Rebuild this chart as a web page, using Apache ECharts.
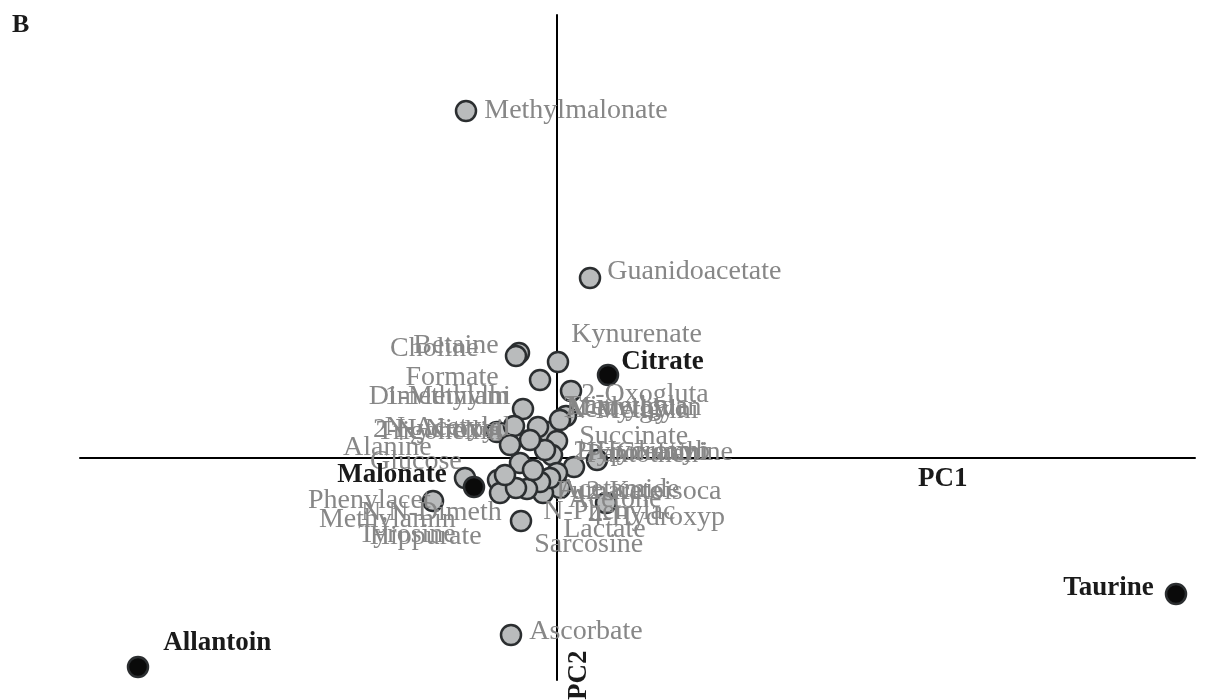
<!DOCTYPE html>
<html>
<head>
<meta charset="utf-8">
<script src="https://cdn.jsdelivr.net/npm/echarts@6/dist/echarts.min.js"></script>
<style>
  html, body { margin: 0; padding: 0; background: #fff; }
  #chart { width: 1213px; height: 700px; }
</style>
</head>
<body>
<div id="chart"></div>
<script>
// metabolite loadings, PC1 / PC2
const names = [
  "Methylmalonate", "Guanidoacetate", "Ascorbate", "Kynurenate", "Betaine",
  "Choline", "Formate", "2-Oxogluta", "1-Methylhi", "Dimethylam",
  "Methylguan", "Acetylglyc", "N-Methylni", "Trimethyla", "Succinate",
  "2-Hydroxyb", "Hypoxanthi", "Pantothen", "Creatinine", "Fumarate",
  "Acetamide", "Acetone", "2-Ketoisoca", "N-Phenylac", "4-Hydroxyp",
  "Lactate", "Sarcosine", "Alanine", "Glucose", "Trigonellin",
  "N-Nitroso", "2-Hydroxyi", "N-Acetylgl", "Phenylacet", "Methylamin",
  "N,N-Dimeth", "Hippurate", "Tyrosine",
  "Citrate", "Malonate", "Taurine", "Allantoin"
];
const pc1 = [
  -0.091, 0.033, -0.046, 0.001, -0.038,
  -0.041, -0.017, 0.014, -0.034, -0.060,
  0.009, -0.009, -0.019, 0.003, 0.000,
  0.040, -0.005, 0.017, -0.012, 0.003,
  -0.014, 0.000, 0.049, -0.036, -0.007,
  -0.017, -0.030, -0.059, -0.092, -0.043,
  -0.027, -0.037, -0.047, -0.124, -0.057,
  -0.041, -0.024, -0.052,
  0.051, -0.083, 0.619, -0.419
];
const pc2 = [
  0.347, 0.180, -0.177, 0.096, 0.105,
  0.102, 0.078, 0.067, 0.049, 0.026,
  0.042, 0.026, 0.031, 0.038, 0.017,
  -0.002, 0.003, -0.009, 0.008, -0.030,
  -0.035, -0.015, -0.045, -0.063, -0.020,
  -0.024, -0.031, -0.022, -0.020, 0.032,
  0.018, -0.005, 0.013, -0.043, -0.035,
  -0.030, -0.012, -0.017,
  0.083, -0.029, -0.136, -0.209
];
const highlighted = ["Citrate", "Malonate", "Taurine", "Allantoin"];

// where each label sits relative to its point
const labelSide = [
  "right", "right", "right", "right", "left",
  "left", "left", "right", "left", "left",
  "right", "right", "right", "right", "right",
  "right", "right", "right", "right", "right",
  "right", "right", "right", "right", "right",
  "right", "right", "left", "left", "left",
  "left", "left", "left", "left", "left",
  "left", "left", "left",
  "right", "left", "left", "right"
];
const labelShift = [
  [2, 0], [1, -6], [2, -3], [-3, -27], [-4, -7],
  [-21, -7], [-25, -2], [-6, 4], [4, -12], [28, -35],
  [-16, -8], [0, -22], [12, -16], [-12, -13], [6, -4],
  [-40, -8], [8, -2], [-4, -12], [55, 3], [-20, 4],
  [-1, -3], [-5, 27], [-36, -11], [6, -9], [22, 40],
  [7, 48], [-9, 56], [-50, -32], [13, -16], [4, 6],
  [-5, -10], [0, -33], [17, -17], [14, 0], [-28, 27],
  [2, 25], [-35, 67], [-33, 60],
  [-3, -13], [-11, -12], [-6, -6], [9, -24]
];

const serif = '"Liberation Serif", "Times New Roman", serif';

function buildData(bold) {
  const out = [];
  names.forEach((n, i) => {
    const isHi = highlighted.indexOf(n) >= 0;
    if (isHi !== bold) return;
    out.push({
      name: n,
      value: [pc1[i], pc2[i]],
      label: {
        position: labelSide[i],
        offset: labelShift[i],
      },
    });
  });
  return out;
}

const chart = echarts.init(document.getElementById("chart"));
chart.setOption({
  animation: false,
  grid: { left: 80, right: 18, top: 15, bottom: 20 },
  xAxis: {
    type: "value",
    min: -0.477,
    max: 0.638,
    axisLine: { onZero: true, lineStyle: { color: "#000", width: 2 } },
    axisTick: { show: false },
    axisLabel: { show: false },
    splitLine: { show: false },
  },
  yAxis: {
    type: "value",
    min: -0.222,
    max: 0.443,
    axisLine: { onZero: true, lineStyle: { color: "#000", width: 2 } },
    axisTick: { show: false },
    axisLabel: { show: false },
    splitLine: { show: false },
  },
  graphic: [
    { type: "text", left: 12, top: 12,
      style: { text: "B", font: "bold 26px " + serif, fill: "#1a1a1a" } },
    { type: "text", x: 918, y: 466,
      style: { text: "PC1", font: "bold 27px " + serif, fill: "#1a1a1a" } },
    { type: "text", x: 566, y: 700, rotation: Math.PI / 2,
      style: { text: "PC2", font: "bold 27px " + serif, fill: "#1a1a1a" } },
  ],
  series: [
    {
      type: "scatter",
      symbolSize: 20,
      itemStyle: { color: "#b9bbbc", borderColor: "#2b2e30", borderWidth: 2.5, opacity: 1 },
      label: {
        show: true,
        formatter: "{b}",
        color: "#878787",
        fontFamily: serif,
        fontSize: 28,
        distance: 5,
      },
      data: buildData(false),
    },
    {
      type: "scatter",
      symbolSize: 20,
      itemStyle: { color: "#0a0a0a", borderColor: "#2b2e30", borderWidth: 2.5, opacity: 1 },
      label: {
        show: true,
        formatter: "{b}",
        color: "#1a1a1a",
        fontFamily: serif,
        fontWeight: "bold",
        fontSize: 27,
        distance: 5,
      },
      data: buildData(true),
    },
  ],
});
</script>
</body>
</html>
